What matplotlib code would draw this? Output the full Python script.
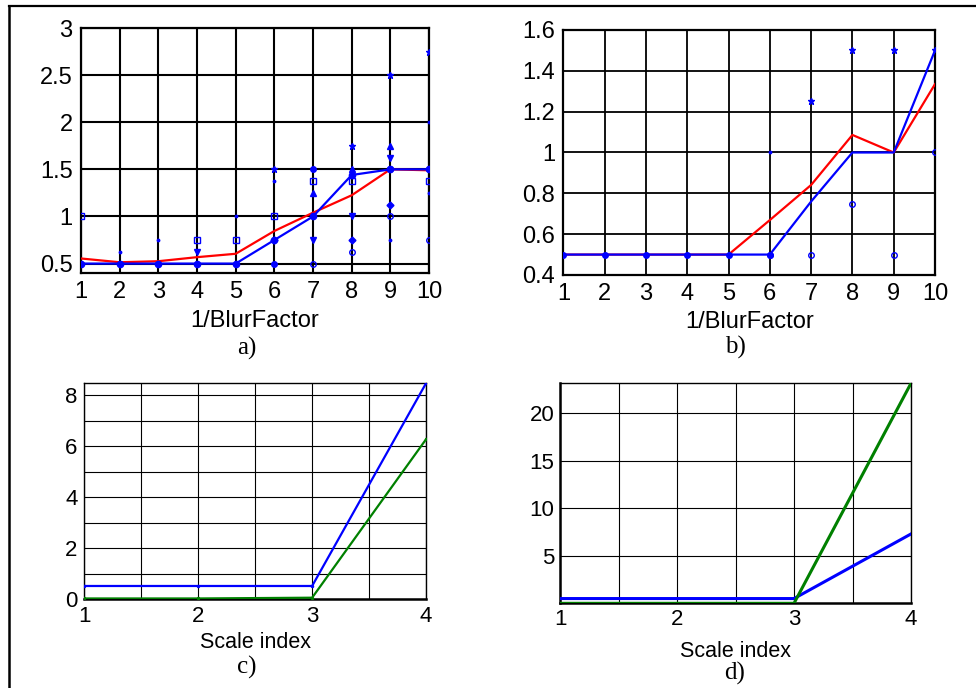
"""
Four panels: a) b) error vs 1/BlurFactor, c) d) vs scale index
"""
import numpy as np
import matplotlib
matplotlib.use("Agg")
import matplotlib.pyplot as plt
from matplotlib.lines import Line2D

plt.rcParams['font.family'] = ['Liberation Sans', 'DejaVu Sans']

# ---- panel a ----
a_x = [1, 2, 3, 4, 5, 6, 7, 8, 9, 10]
a_blue = [0.5, 0.5, 0.5, 0.5, 0.5, 0.75, 1.0, 1.44, 1.5, 1.5]
a_red = [0.554, 0.514, 0.525, 0.568, 0.604, 0.846, 1.04, 1.225, 1.5, 1.49]
a_sq_x = [1, 4, 5, 6, 7, 8, 10]
a_sq_y = [1.0, 0.75, 0.75, 1.0, 1.375, 1.375, 1.375]
a_dn_x = [4, 7, 8, 9]
a_dn_y = [0.625, 0.75, 1.0, 1.625]
a_up_x = [7, 8, 9]
a_up_y = [1.25, 1.5, 1.75]
a_star_x = [6, 8, 9, 10]
a_star_y = [1.5, 1.75, 2.5, 2.75]
a_dot_x = [2, 3, 5, 6, 9, 10, 10]
a_dot_y = [0.625, 0.75, 1.0, 1.375, 0.75, 2.0, 1.25]
a_circ_x = [7, 8, 9, 10]
a_circ_y = [0.5, 0.625, 1.0, 0.75]
a_dia_x = [6, 8, 9]
a_dia_y = [0.75, 0.75, 1.125]
a_fill_x = [6, 7, 9, 10]
a_fill_y = [0.5, 1.5, 1.5, 1.5]

# ---- panel b ----
b_x = [1, 2, 3, 4, 5, 6, 7, 8, 9, 10]
b_blue = [0.5, 0.5, 0.5, 0.5, 0.5, 0.5, 0.76, 1.0, 1.0, 1.5]
b_red = [0.5, 0.5, 0.5, 0.5, 0.5, 0.669, 0.841, 1.086, 1.0, 1.335]
b_star_x = [7, 8, 9, 10]
b_star_y = [1.25, 1.5, 1.5, 1.5]
b_circ_x = [6, 7, 8, 9, 10]
b_circ_y = [0.5, 0.5, 0.75, 0.5, 1.0]
b_dot_x = [6]
b_dot_y = [1.0]

# ---- panels c, d ----
s_x = [1, 2, 3, 4]
c_blue = [0.51, 0.51, 0.51, 8.47]
c_green = [0.02, 0.02, 0.05, 6.27]
d_blue = [0.5, 0.5, 0.5, 7.3]
d_green = [0.0, 0.0, 0.0, 23.16]

BLUE = '#0000ff'
RED = '#ff0000'
GREEN = '#008000'

fig = plt.figure(figsize=(9.76, 6.88), dpi=100)

# outer frame (left + top only)
fig.add_artist(Line2D([0.0095, 0.0095], [0, 0.992], transform=fig.transFigure, color='black', lw=1.8))
fig.add_artist(Line2D([0.0095, 1.0], [0.9915, 0.9915], transform=fig.transFigure, color='black', lw=1.6))


def style_axes(ax, grid_lw, spine_lw, fs):
    ax.grid(True, color='black', lw=grid_lw)
    ax.set_axisbelow(True)
    for s in ax.spines.values():
        s.set_linewidth(spine_lw)
    ax.tick_params(length=0, labelsize=fs, pad=6)


# a)
ax = fig.add_axes([0.0830, 0.6032, 0.3566, 0.3561])
ax.plot(a_x, a_red, color=RED, lw=1.6, zorder=3)
ax.plot(a_x, a_blue, color=BLUE, lw=1.6, marker='o', ms=4.5, zorder=4)
mk = dict(color=BLUE, ls='none', zorder=5)
ax.plot(a_sq_x, a_sq_y, marker='s', ms=4, mfc='none', mew=1.0, **mk)
ax.plot(a_dn_x, a_dn_y, marker='v', ms=4.5, **mk)
ax.plot(a_up_x, a_up_y, marker='^', ms=4.5, **mk)
ax.plot(a_star_x, a_star_y, marker='*', ms=5, **mk)
ax.plot(a_dot_x, a_dot_y, marker='.', ms=3.5, **mk)
ax.plot(a_circ_x, a_circ_y, marker='o', ms=4, mfc='none', mew=1.0, **mk)
ax.plot(a_dia_x, a_dia_y, marker='D', ms=3.5, **mk)
ax.plot(a_fill_x, a_fill_y, marker='o', ms=4, **mk)
ax.set_xlim(1, 10)
ax.set_ylim(0.4, 3)
ax.set_xticks(a_x)
ax.set_yticks([0.5, 1, 1.5, 2, 2.5, 3])
ax.set_yticklabels(['0.5', '1', '1.5', '2', '2.5', '3'])
style_axes(ax, 1.5, 1.6, 17)
ax.set_xlabel('1/BlurFactor', fontsize=17, labelpad=5)

# b)
ax = fig.add_axes([0.5772, 0.6003, 0.3808, 0.3561])
ax.plot(b_x, b_red, color=RED, lw=1.6, zorder=3)
ax.plot(b_x[:6], b_blue[:6], color=BLUE, ls='none', marker='o', ms=4, zorder=4)
ax.plot(b_x, b_blue, color=BLUE, lw=1.6, zorder=4)
ax.plot(b_star_x, b_star_y, marker='*', ms=5, **mk)
ax.plot(b_circ_x, b_circ_y, marker='o', ms=4, mfc='none', mew=1.0, **mk)
ax.plot(b_dot_x, b_dot_y, marker='.', ms=3.5, **mk)
ax.set_xlim(1, 10)
ax.set_ylim(0.4, 1.6)
ax.set_xticks(b_x)
ax.set_yticks([0.4, 0.6, 0.8, 1.0, 1.2, 1.4, 1.6])
ax.set_yticklabels(['0.4', '0.6', '0.8', '1', '1.2', '1.4', '1.6'])
style_axes(ax, 1.3, 1.6, 17)
ax.set_xlabel('1/BlurFactor', fontsize=17, labelpad=4)

# c)
ax = fig.add_axes([0.0864, 0.1294, 0.3501, 0.3135])
ax.plot(s_x, c_blue, color=BLUE, lw=1.6, marker='.', ms=3, zorder=3)
ax.plot(s_x, c_green, color=GREEN, lw=1.6, marker='.', ms=3, zorder=3)
ax.set_xlim(1, 4)
ax.set_ylim(0, 8.47)
ax.set_xticks(np.arange(1, 4.01, 0.5), minor=True)
ax.set_xticks(s_x)
ax.set_yticks(np.arange(0, 8.1, 1), minor=True)
ax.set_yticks([0, 2, 4, 6, 8])
ax.grid(True, which='both', color='black', lw=0.8)
ax.set_axisbelow(True)
for s in ax.spines.values():
    s.set_linewidth(1.0)
ax.spines['bottom'].set_linewidth(1.8)
ax.tick_params(which='both', length=0, labelsize=16, pad=5)
ax.set_xlabel('Scale index', fontsize=15.5, labelpad=4)

# d)
ax = fig.add_axes([0.5738, 0.1231, 0.3596, 0.3198])
ax.plot(s_x, d_blue, color=BLUE, lw=2.2, zorder=3)
ax.plot(s_x, d_green, color=GREEN, lw=2.2, zorder=4)
ax.set_xlim(1, 4)
ax.set_ylim(0, 23.16)
ax.set_xticks(np.arange(1, 4.01, 0.5), minor=True)
ax.set_xticks(s_x)
ax.set_yticks([5, 10, 15, 20])
ax.grid(True, which='both', color='black', lw=0.8)
ax.set_axisbelow(True)
for s in ax.spines.values():
    s.set_linewidth(1.0)
ax.spines['bottom'].set_linewidth(1.8)
ax.spines['left'].set_linewidth(1.8)
ax.tick_params(which='both', length=0, labelsize=16, pad=4)
ax.set_xlabel('Scale index', fontsize=15.5, labelpad=8)

# captions
cap = dict(fontsize=18, family=['Liberation Serif', 'DejaVu Serif'], ha='center', va='center')
fig.text(247 / 976, 1 - 348 / 688, 'a)', **cap)
fig.text(735 / 976, 1 - 347 / 688, 'b)', **cap)
fig.text(247 / 976, 1 - 667 / 688, 'c)', **cap)
fig.text(735 / 976, 1 - 673 / 688, 'd)', **cap)

fig.savefig('out.png', dpi=100)
